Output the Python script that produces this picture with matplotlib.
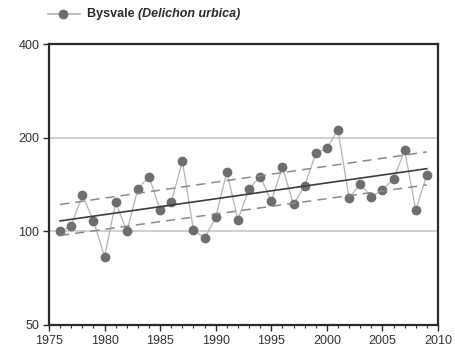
import matplotlib
matplotlib.use("Agg")
import matplotlib.pyplot as plt
from matplotlib.lines import Line2D
from matplotlib.ticker import FixedLocator, FixedFormatter, NullFormatter, NullLocator

plt.rcParams['font.family'] = ['Liberation Sans', 'DejaVu Sans']

# yearly index, Bysvale (Delichon urbica)
years = list(range(1976, 2010))
index = [100, 104, 131, 108, 83, 124, 100, 137, 150, 117,
         124, 168, 101, 95, 111, 155, 109, 137, 150, 125,
         161, 122, 140, 178, 185, 212, 128, 142, 129, 136,
         147, 182, 117, 152]

# trend line and its bands at the first and last year
trend_years = [1976, 2009]
trend = [108, 159]
upper = [122, 180]
lower = [97, 141]

fig = plt.figure(figsize=(4.56, 3.56), dpi=100)
ax = fig.add_axes([0.1075, 0.0871, 0.853, 0.7893])

ax.plot(years, index, color='#b4b4b4', lw=0.9, zorder=2)
ax.plot(years, index, 'o', color='#6e6e6e', ms=6, mec='#6e6e6e', zorder=3)
ax.plot(trend_years, trend, color='#3c3c3c', lw=1.2, zorder=4)
ax.plot(trend_years, upper, color='#8a8a8a', lw=1.1, ls=(0, (6, 4)), zorder=4)
ax.plot(trend_years, lower, color='#8a8a8a', lw=1.1, ls=(0, (6, 4)), zorder=4)

ax.set_yscale('log')
ax.set_ylim(50, 400)
ax.set_xlim(1975, 2010)
ax.yaxis.set_major_locator(FixedLocator([50, 100, 200, 400]))
ax.yaxis.set_minor_locator(NullLocator())
ax.yaxis.set_major_formatter(FixedFormatter(['50', '100', '200', '400']))
ax.yaxis.set_minor_formatter(NullFormatter())
ax.xaxis.set_major_locator(FixedLocator(range(1975, 2011, 5)))
ax.xaxis.set_minor_locator(FixedLocator(range(1975, 2011)))

for y in [100, 200]:
    ax.axhline(y, color='#c8c8c8', lw=1.2, zorder=1)

for s in ax.spines.values():
    s.set_color('#2a2a2a')
    s.set_linewidth(1.6)
ax.tick_params(axis='both', which='major', direction='out', length=4, width=1,
               labelsize=9, colors='#2a2a2a', labelcolor='#333333', pad=3)
ax.tick_params(axis='x', which='minor', direction='out', length=2.5, width=0.8, color='#2a2a2a')

# legend row above the axes
ly = 1 - 14 / 356
fig.add_artist(Line2D([48 / 456, 80 / 456], [ly, ly], color='#b4b4b4', lw=1.2))
fig.add_artist(Line2D([63 / 456], [ly], marker='o', color='#6e6e6e', ms=6))
t1 = fig.text(87 / 456, ly, 'Bysvale ', fontsize=9, fontweight='bold',
              va='center', ha='left', color='#2a2a2a')
fig.canvas.draw()
ax.annotate('(Delichon urbica)', xy=(1, 0.5), xycoords=t1, va='center', ha='left',
            fontsize=9, fontweight='bold', fontstyle='italic', color='#2a2a2a',
            annotation_clip=False)

fig.savefig('out.png', dpi=100)
